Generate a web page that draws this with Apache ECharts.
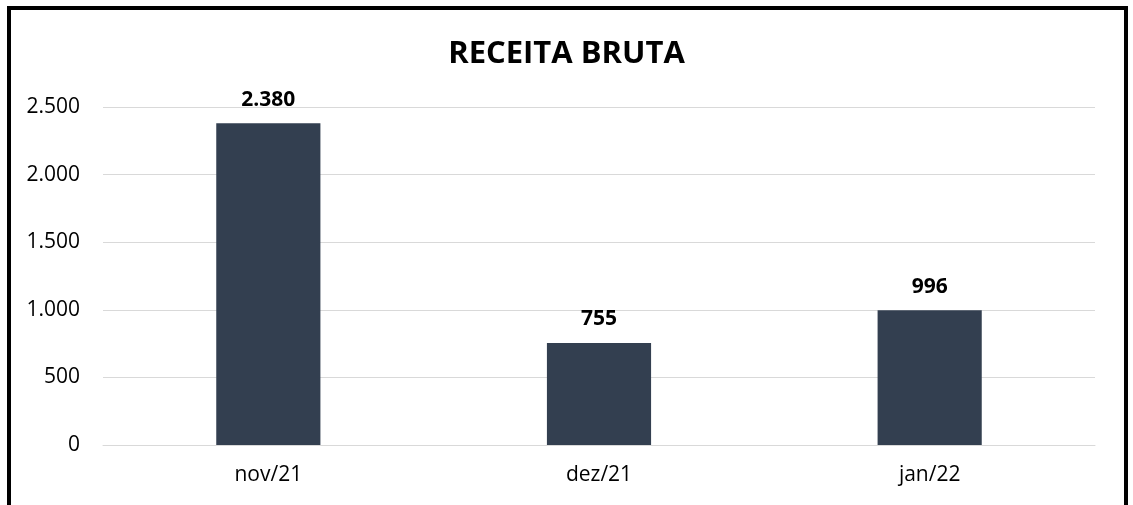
<!DOCTYPE html>
<html>
<head>
<meta charset="utf-8">
<script src="https://cdn.jsdelivr.net/npm/echarts@6/dist/echarts.min.js"></script>
<style>
  html, body { margin: 0; padding: 0; background: #fff; }
  .frame {
    position: absolute; left: 7px; top: 6px; width: 1121px; height: 520px;
    border: 4px solid #000; border-bottom: none; box-sizing: border-box;
  }
  .chart { position: absolute; left: 0; top: 0; width: 1133px; height: 505px; }
</style>
</head>
<body>
<div class="chart" id="chart"></div>
<div class="frame"></div>
<script>
// 数据
var categories = ['nov/21', 'dez/21', 'jan/22']
var values = [2380, 755, 996]
var titleText = 'RECEITA BRUTA'

// 千位用点分隔
function fmt(v) {
  return String(v).replace(/\B(?=(\d{3})+(?!\d))/g, '.')
}

(function () {
  var option = {
    animation: false,
    title: {
      text: titleText,
      left: 'center',
      top: 34,
      textStyle: {
        fontFamily: 'Open Sans',
        fontWeight: 'bold',
        fontSize: 31,
        color: '#000'
      }
    },
    grid: {
      left: 103,
      right: 38,
      top: 107,
      bottom: 60
    },
    xAxis: {
      type: 'category',
      data: categories,
      axisTick: { show: false },
      axisLine: { lineStyle: { color: '#d9d9d9', width: 1 } },
      axisLabel: {
        color: '#000',
        fontFamily: 'Open Sans',
        fontSize: 21,
        margin: 20
      }
    },
    yAxis: {
      type: 'value',
      min: 0,
      max: 2500,
      interval: 500,
      axisLine: { show: false },
      axisTick: { show: false },
      axisLabel: {
        color: '#000',
        fontFamily: 'Open Sans',
        fontSize: 21,
        margin: 23,
        formatter: fmt
      },
      splitLine: { lineStyle: { color: '#d9d9d9', width: 1 } }
    },
    series: [{
      type: 'bar',
      data: values,
      barWidth: '31.5%',
      itemStyle: { color: '#333f50' },
      label: {
        show: true,
        position: 'top',
        distance: 13,
        color: '#000',
        fontFamily: 'Open Sans',
        fontWeight: 'bold',
        fontSize: 21,
        formatter: function (p) { return fmt(p.value) }
      }
    }]
  }
  var myChart = echarts.init(document.getElementById('chart'))
  myChart.setOption(option)
})();
</script>
</body>
</html>
